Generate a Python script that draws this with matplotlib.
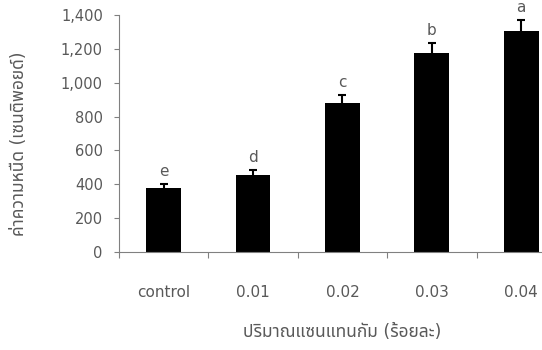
import matplotlib.pyplot as plt
from matplotlib.ticker import FuncFormatter

plt.rcParams['font.family'] = ['DejaVu Sans', 'Noto Sans Thai', 'Loma', 'Garuda', 'Noto Sans']

levels = ["control", "0.01", "0.02", "0.03", "0.04"]
viscosity = [378, 455, 880, 1175, 1305]
sd = [24, 29, 47, 59, 68]
groups = ["e", "d", "c", "b", "a"]

text_grey = "#595959"
axis_grey = "#808080"

fig = plt.figure(figsize=(5.42, 3.5), dpi=100)
# plot area runs past the right edge of the figure
ax = fig.add_axes([0.2195, 0.28, 0.8247, 0.677])

x = list(range(len(levels)))
ax.bar(x, viscosity, width=0.39, color="black",
       yerr=sd, error_kw=dict(ecolor="black", elinewidth=1.5, capsize=3, capthick=1.5))

for xi, v, e, g in zip(x, viscosity, sd, groups):
    ax.text(xi, v + e + 28, g, ha="center", va="bottom", fontsize=11, color=text_grey)

ax.set_xlim(-0.5, 4.5)
ax.set_ylim(0, 1400)
ax.set_yticks(range(0, 1401, 200))
ax.yaxis.set_major_formatter(FuncFormatter(lambda v, p: f"{int(v):,}"))

# ticks sit between the bars, labels under the bars
ax.set_xticks([i - 0.5 for i in range(len(levels))])
ax.set_xticklabels([])
ax.set_xticks(x, minor=True)
ax.set_xticklabels(levels, minor=True)
ax.tick_params(axis="x", which="minor", length=0, pad=24, labelsize=11, labelcolor=text_grey)
ax.tick_params(axis="x", which="major", length=4.5, direction="out", color=axis_grey)
ax.tick_params(axis="y", length=3.6, direction="out", color=axis_grey, pad=8,
               labelsize=10.5, labelcolor=text_grey)

for s in ["top", "right"]:
    ax.spines[s].set_visible(False)
for s in ["left", "bottom"]:
    ax.spines[s].set_color(axis_grey)

fig.text(0.035, 0.59, "ค่าความหนืด (เซนติพอยด์)", rotation=90, ha="center", va="center",
         fontsize=12.5, color=text_grey)
fig.text(0.631, 0.051, "ปริมาณแซนแทนกัม (ร้อยละ)", ha="center", va="center",
         fontsize=12.5, color=text_grey)

fig.savefig("out.png", dpi=100)
